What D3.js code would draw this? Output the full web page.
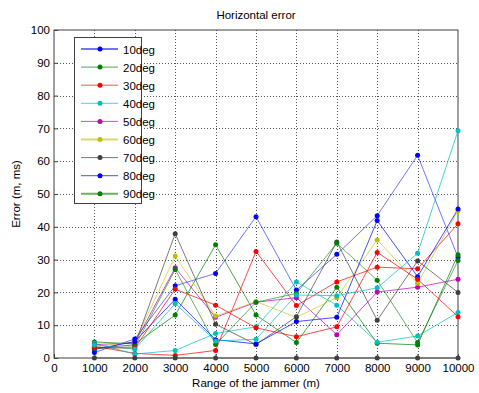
<!DOCTYPE html>
<html lang="en">
<head>
<meta charset="utf-8" />
<title>Horizontal error</title>
<script src="https://d3js.org/d3.v7.min.js"></script>
<style>
  body { margin: 0; background: #fff; }
  text { font-family: "Liberation Sans", Arial, sans-serif; }
</style>
</head>
<body>
<svg width="479" height="393"></svg>
<script>
// ranges of the jammer (m)
const ranges = [1000, 2000, 3000, 4000, 5000, 6000, 7000, 8000, 9000, 10000];

// error values per series
const deg10 = [1.7, 5.8, 22.0, 25.8, 43.1, 20.7, 31.6, 43.4, 61.8, 30.7];
const deg20 = [4.9, 4.3, 13.1, 34.5, 13.1, 4.7, 21.6, 4.5, 4.0, 31.5];
const deg30 = [3.6, 1.4, 0.8, 2.3, 32.5, 16.0, 23.2, 27.7, 27.2, 40.9];
const deg40 = [4.5, 1.2, 2.3, 7.5, 9.5, 23.2, 16.1, 4.8, 6.7, 13.9];
const deg50 = [4.1, 4.6, 27.5, 12.4, 17.0, 18.4, 7.1, 20.1, 21.6, 24.0];
const deg60 = [3.4, 4.9, 31.1, 12.8, 17.2, 12.4, 18.4, 36.0, 22.8, 44.9];
const deg70 = [3.0, 4.0, 37.9, 10.3, 4.1, 12.6, 35.4, 11.5, 29.6, 20.0];
const deg80 = [2.6, 5.0, 17.9, 5.6, 4.3, 11.1, 12.4, 41.9, 24.8, 45.4];
const deg90 = [2.9, 3.4, 27.0, 4.1, 17.0, 19.7, 35.0, 23.7, 4.7, 29.7];
// extra lines without a legend entry
const extraRed = [3.2, 3.0, 21.0, 16.1, 9.2, 6.5, 9.5, 32.2, 24.0, 12.6];
const extraCyan = [4.0, 2.7, 16.6, 5.2, 5.7, 19.2, 19.0, 21.4, 31.9, 69.3];
const zeroLine = [0, 0, 0, 0, 0, 0, 0, 0, 0, 0];

const legendNames = ["10deg", "20deg", "30deg", "40deg", "50deg", "60deg", "70deg", "80deg", "90deg"];
const xTicks = [0, 1000, 2000, 3000, 4000, 5000, 6000, 7000, 8000, 9000, 10000];
const yTicks = [0, 10, 20, 30, 40, 50, 60, 70, 80, 90, 100];

const series = [
  { name: "10deg", values: deg10, color: "#0000ff", lw: 1, op: 0.55 },
  { name: "20deg", values: deg20, color: "#008000", lw: 1, op: 0.7 },
  { name: "30deg", values: deg30, color: "#ff0000", lw: 1, op: 0.7 },
  { name: "40deg", values: deg40, color: "#00bfbf", lw: 1, op: 0.7 },
  { name: "50deg", values: deg50, color: "#bf00bf", lw: 1, op: 0.7 },
  { name: "60deg", values: deg60, color: "#bfbf00", lw: 1, op: 0.6 },
  { name: "70deg", values: deg70, color: "#404040", lw: 1, op: 0.7 },
  { name: "80deg", values: deg80, color: "#0000ff", lw: 1, op: 0.7 },
  { name: "90deg", values: deg90, color: "#008000", lw: 1, op: 0.6 },
  { name: "", values: extraRed, color: "#ff0000", lw: 1, op: 0.7 },
  { name: "", values: extraCyan, color: "#00bfbf", lw: 1, op: 0.7 },
  { name: "", values: zeroLine, color: "#404040", lw: 1, op: 0.7 }
];

const svg = d3.select("svg");
const mLeft = 54, mRight = 458, mTop = 30, mBottom = 358;

const x = d3.scaleLinear().domain([0, 10000]).range([mLeft, mRight]);
const y = d3.scaleLinear().domain([0, 100]).range([mBottom, mTop]);

// grid
const grid = svg.append("g")
  .attr("stroke", "#555")
  .attr("stroke-width", 1)
  .attr("stroke-dasharray", "1,2");
grid.selectAll("line.gx").data(xTicks.slice(1, -1)).enter().append("line")
  .attr("x1", d => Math.round(x(d)) + 0.5).attr("x2", d => Math.round(x(d)) + 0.5)
  .attr("y1", mTop).attr("y2", mBottom);
grid.selectAll("line.gy").data(yTicks.slice(1, -1)).enter().append("line")
  .attr("y1", d => Math.round(y(d)) + 0.5).attr("y2", d => Math.round(y(d)) + 0.5)
  .attr("x1", mLeft).attr("x2", mRight);

// axes (ticks inside, like matlab)
const xAxis = svg.append("g")
  .attr("transform", `translate(0,${mBottom})`)
  .call(d3.axisBottom(x).tickValues(xTicks).tickFormat(d3.format("d"))
    .tickSizeInner(-4).tickSizeOuter(0).tickPadding(6));
const yAxis = svg.append("g")
  .attr("transform", `translate(${mLeft},0)`)
  .call(d3.axisLeft(y).tickValues(yTicks).tickFormat(d3.format("d"))
    .tickSizeInner(-4).tickSizeOuter(0).tickPadding(4));
[xAxis, yAxis].forEach(a => {
  a.select(".domain").remove();
  a.selectAll("line").attr("stroke", "#404040");
  a.selectAll("text").attr("font-size", 11.5).attr("fill", "#000");
});

// box
svg.append("rect")
  .attr("x", mLeft).attr("y", mTop)
  .attr("width", mRight - mLeft).attr("height", mBottom - mTop)
  .attr("fill", "none").attr("stroke", "#404040").attr("stroke-width", 1);

// lines
const line = d3.line().x((d, i) => x(ranges[i])).y(d => y(d));
const plot = svg.append("g");
series.forEach(s => {
  plot.append("path")
    .datum(s.values)
    .attr("fill", "none")
    .attr("stroke", s.color)
    .attr("stroke-opacity", s.op)
    .attr("stroke-width", s.lw)
    .attr("d", line);
});
series.forEach(s => {
  plot.selectAll(null).data(s.values).enter().append("circle")
    .attr("cx", (d, i) => x(ranges[i]))
    .attr("cy", d => y(d))
    .attr("r", 2.5)
    .attr("fill", s.color);
});

// title and labels
svg.append("text").attr("x", 256).attr("y", 19).attr("text-anchor", "middle")
  .attr("font-size", 11.5).text("Horizontal error");
svg.append("text").attr("x", 256).attr("y", 387).attr("text-anchor", "middle")
  .attr("font-size", 11.5).text("Range of the jammer (m)");
svg.append("text").attr("transform", `translate(20,${(mTop + mBottom) / 2}) rotate(-90)`)
  .attr("text-anchor", "middle").attr("font-size", 11.5).text("Error (m, ms)");

// legend
const legend = svg.append("g");
legend.append("rect")
  .attr("x", 74.5).attr("y", 37.5).attr("width", 67).attr("height", 166)
  .attr("fill", "#fff").attr("stroke", "#404040");
const legendSeries = series.filter(s => legendNames.includes(s.name));
const item = legend.selectAll("g.item").data(legendSeries).enter().append("g")
  .attr("transform", (d, i) => `translate(0,${49 + i * 18.1})`);
item.append("line")
  .attr("x1", 81).attr("x2", 118)
  .attr("stroke", d => d.color)
  .attr("stroke-opacity", d => d.op)
  .attr("stroke-width", d => (d.name === "10deg" || d.name === "60deg" || d.name === "90deg") ? 2 : 1);
item.append("circle").attr("cx", 100).attr("r", 2.5).attr("fill", d => d.color);
item.append("text").attr("x", 123).attr("y", 4.5).attr("font-size", 11.5).text(d => d.name);
</script>
</body>
</html>
